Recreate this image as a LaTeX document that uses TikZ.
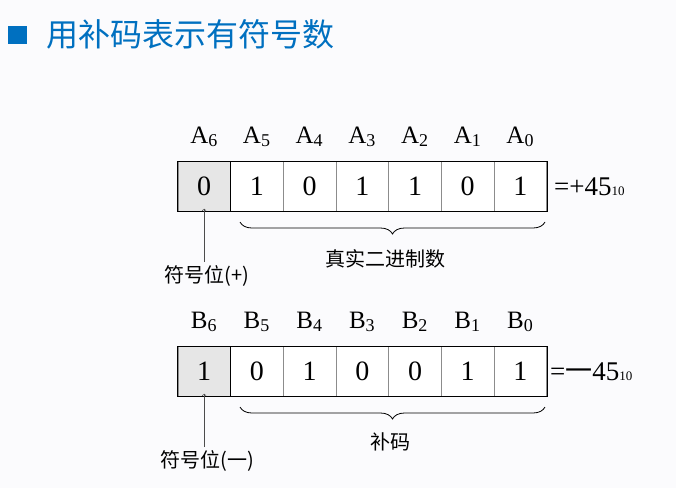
\documentclass[tikz,border=0pt]{standalone}
\usepackage{fontspec}
\setmainfont{Liberation Serif}
\newfontfamily\cjk{Noto Sans CJK SC}
\usetikzlibrary{decorations.pathreplacing}
\definecolor{ttl}{HTML}{0070C0}
\definecolor{bg}{HTML}{FBFBFD}
\definecolor{sgn}{HTML}{E6E6E6}
\tikzset{
  cell/.style={draw=black!45,line width=0.7pt,minimum width=52.7pt,minimum height=50pt,inner sep=0pt,font=\fontsize{28}{30}\selectfont,anchor=north west},
  bitlab/.style={font=\fontsize{25}{27}\selectfont,anchor=base},
  cn/.style={font=\cjk\fontsize{20}{22}\selectfont},
  brc/.style={decorate,decoration={brace,mirror,amplitude=12pt},line width=0.8pt}
}
\begin{document}
\begin{tikzpicture}[x=1pt,y=-1pt]
\fill[bg] (0,0) rectangle (676,488);
\useasboundingbox (0,0) rectangle (676,488);
\fill[ttl] (8,26) rectangle (27,44);
\node[anchor=west,text=ttl,font=\cjk\fontsize{32}{34}\selectfont,inner sep=0pt] (title) at (46,34) {用补码表示有符号数};
\foreach \r/\y/\L/\bits/\nm in {0/161/A/{0,1,0,1,1,0,1}/a, 1/346/B/{1,0,1,0,0,1,1}/b}{
  \foreach \v [count=\i from 0] in \bits {
    \pgfmathsetmacro\xx{177.5+52.7*\i}
    \pgfmathtruncatemacro\k{6-\i}
    \ifnum\i=0
      \node[cell,fill=sgn] (\nm\i) at (\xx,\y) {\v};
    \else
      \node[cell,fill=white] (\nm\i) at (\xx,\y) {\v};
    \fi
    \node[bitlab] (\nm l\i) at (\xx+26.3,\y-18) {\L\raisebox{-0.15em}{\fontsize{18}{20}\selectfont\k}};
  }
  \draw[line width=1pt] (\nm0.north west) rectangle (\nm6.south east);
  \draw[line width=1pt] (\nm0.north east) -- (\nm0.south east);
}
\node[anchor=west,font=\fontsize{27}{29}\selectfont,inner sep=0pt] (va) at (554,187) {=+45{\fontsize{13}{13}\selectfont 10}};
\node[anchor=west,font=\fontsize{27}{29}\selectfont,inner sep=0pt] (vb) at (550,372) {={\cjk 一}45{\fontsize{13}{13}\selectfont 10}};
\node[cn] (sa) at (207,276) {符号位(+)};
\node[cn] (sb) at (207,461) {符号位({\cjk 一})};
\draw[->,black!70,line width=0.6pt] (sa.north -| a0) -- ([yshift=3pt]a0.south);
\draw[->,black!70,line width=0.6pt] (sb.north -| b0) -- ([yshift=3pt]b0.south);
\coordinate (ba1) at (240,222); \coordinate (ba2) at (545,222);
\coordinate (bb1) at (240,407); \coordinate (bb2) at (545,407);
\draw[brc] (ba1) -- (ba2);
\draw[brc] (bb1) -- (bb2);
\node[cn] (ta) at (385,259) {真实二进制数};
\node[cn] (tb) at (390,442) {补码};
\end{tikzpicture}
\end{document}
